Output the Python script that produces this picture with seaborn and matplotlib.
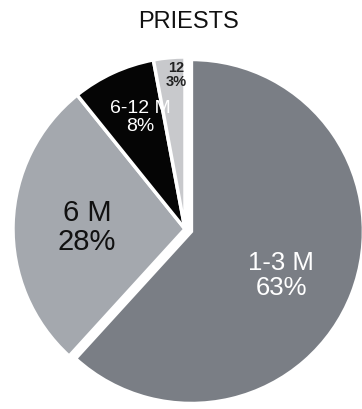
import matplotlib
matplotlib.use("Agg")
import matplotlib.pyplot as plt
import seaborn as sns

sns.set_theme(style="white")
plt.rcParams['font.family'] = ['Liberation Sans', 'DejaVu Sans']

# Duration shares for priests
categories = ["1-3 M", "6 M", "6-12 M", "12"]
shares = [63, 28, 8, 3]
colors = ["#7a7e85", "#a4a8ae", "#050505", "#c8c9cc"]
text_colors = ["white", "#111111", "white", "#222222"]
explode = [0.04, 0, 0, 0]

W, H = 362, 409
fig = plt.figure(figsize=(W / 100, H / 100), dpi=100)
ax = fig.add_axes([0, 0, 1, 1])

wedges, _ = ax.pie(
    shares, colors=colors, startangle=90, counterclock=False,
    explode=explode, radius=1.0,
    wedgeprops=dict(edgecolor="white", linewidth=2.5),
)

# pie() resets the limits, so fix the view afterwards
scale = 172.0            # pixels per unit radius
cx, cy = 185, 229        # pie centre in pixels (from top-left)
ax.set_xlim(-cx / scale, (W - cx) / scale)
ax.set_ylim(-(H - cy) / scale, cy / scale)
ax.set_aspect("equal")
ax.axis("off")

label_pos = [(0.56, -0.27), (-0.57, 0.01), (-0.26, 0.65), (-0.05, 0.895)]
sizes = [18.5, 21, 14, 10.5]
weights = ["normal", "normal", "normal", "bold"]
for cat, val, (x, y), tc, fs, fw in zip(categories, shares, label_pos, text_colors, sizes, weights):
    ax.text(x, y, f"{cat}\n{val}%", ha="center", va="center", color=tc,
            fontsize=fs, fontweight=fw, linespacing=1.05)

fig.text(0.52, 1 - 22 / H, "PRIESTS", ha="center", va="center",
         fontsize=17, color="#111111")

fig.savefig("out.png", dpi=100, facecolor="white")
